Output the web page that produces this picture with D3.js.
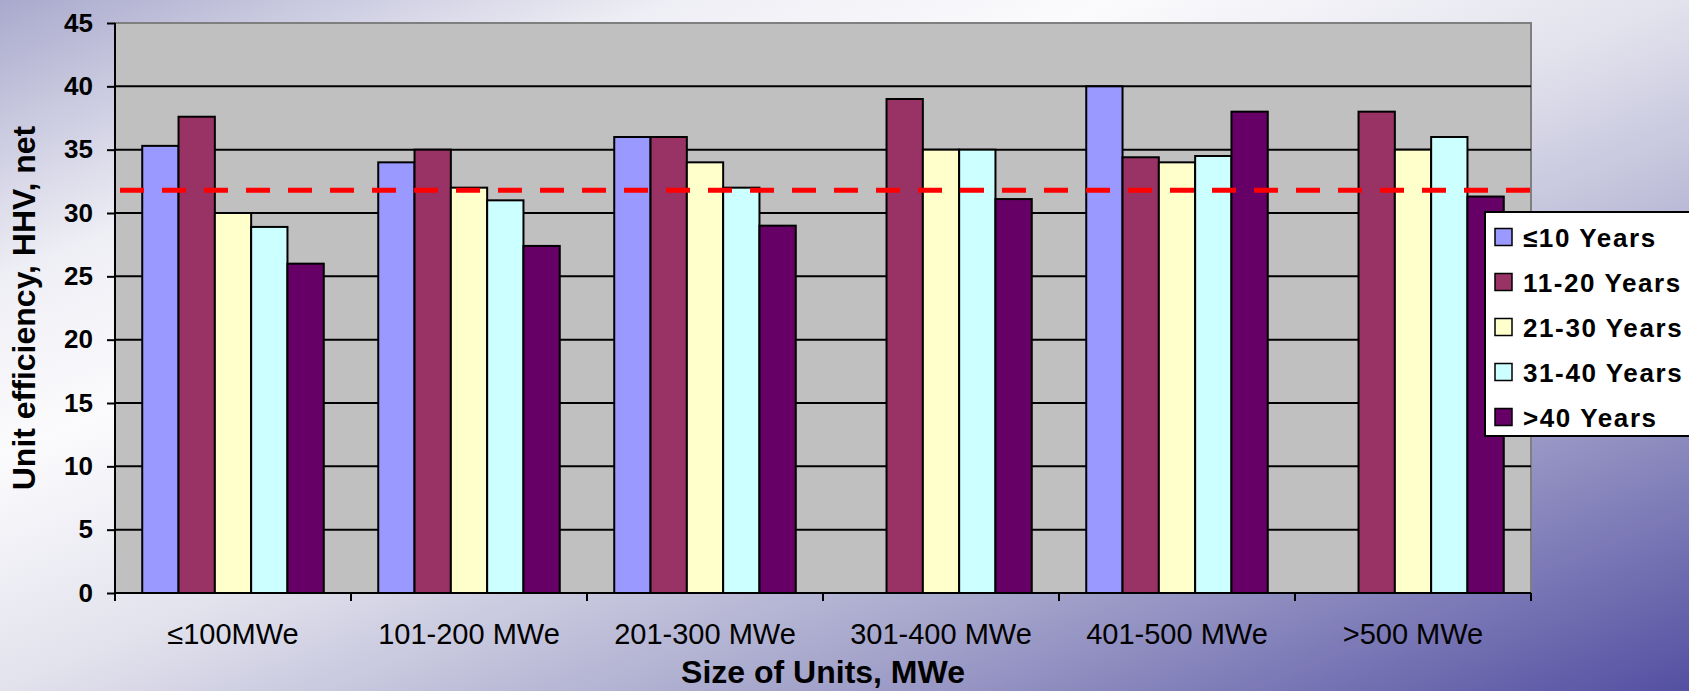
<!DOCTYPE html>
<html>
<head>
<meta charset="utf-8">
<script src="https://cdn.jsdelivr.net/npm/d3@7"></script>
<style>
  html, body { margin: 0; padding: 0; overflow: hidden; }
  svg { display: block; font-family: "Liberation Sans", Arial, sans-serif; }
</style>
</head>
<body>
<svg id="chart" width="1689" height="691"></svg>
<script>
// Unit sizes on the x axis
const categories = ["≤100MWe", "101-200 MWe", "201-300 MWe", "301-400 MWe", "401-500 MWe", ">500 MWe"];
// Unit age groups (one bar series each)
const seriesNames = ["≤10 Years", "11-20 Years", "21-30 Years", "31-40 Years", ">40 Years"];
// Net HHV efficiency (%) per age group, in category order (null = no units)
const age0to10 = [35.3, 34, 36, null, 40, null];
const age11to20 = [37.6, 35, 36, 39, 34.4, 38];
const age21to30 = [30, 32, 34, 35, 34, 35];
const age31to40 = [28.9, 31, 32, 35, 34.5, 36];
const ageOver40 = [26, 27.4, 29, 31.1, 38, 31.3];
// Fleet-wide average efficiency, drawn as the dashed reference line
const fleetAverage = 31.8;
// Y axis tick values
const yTicks = [0, 5, 10, 15, 20, 25, 30, 35, 40, 45];

const seriesValues = [age0to10, age11to20, age21to30, age31to40, ageOver40];
const colors = ["#9999ff", "#993366", "#ffffcc", "#ccffff", "#660066"];

const svg = d3.select("#chart");
const W = 1689, H = 691;
const m = { left: 115, top: 23, right: 158, bottom: 98 };
const pw = W - m.left - m.right, ph = H - m.top - m.bottom;

// Background gradient
const defs = svg.append("defs");
const grad = defs.append("linearGradient").attr("id", "bg")
  .attr("x1", 0).attr("y1", 0).attr("x2", 1).attr("y2", 1);
[[0, "#a9a9cd"], [0.2, "#eeeef5"], [0.33, "#fbfbfd"], [0.5, "#e2e2ed"], [0.72, "#a8a8cd"], [1, "#5450a2"]]
  .forEach(([o, c]) => grad.append("stop").attr("offset", o).attr("stop-color", c));
svg.append("rect").attr("width", W).attr("height", H).attr("fill", "url(#bg)");

const g = svg.append("g").attr("transform", `translate(${m.left},${m.top})`);

const x0 = d3.scaleBand().domain(categories).range([0, pw]).padding(0);
const x1 = d3.scaleBand().domain(seriesNames).range([0, x0.bandwidth()])
  .paddingInner(0).paddingOuter(0.75);
const y = d3.scaleLinear().domain([0, 45]).range([ph, 0]);

// Plot area
g.append("rect").attr("width", pw).attr("height", ph)
  .attr("fill", "#c0c0c0").attr("stroke", "#7f7f7f").attr("stroke-width", 2);

// Horizontal gridlines
g.append("g").selectAll("line").data(yTicks.filter(t => t > 0 && t < 45)).join("line")
  .attr("x1", 0).attr("x2", pw).attr("y1", d => y(d)).attr("y2", d => y(d))
  .attr("stroke", "#000").attr("stroke-width", 2);

// Bars
const rows = [];
seriesNames.forEach((s, si) => categories.forEach((c, ci) => {
  const v = seriesValues[si][ci];
  if (v != null) rows.push({ s, si, c, v });
}));
g.append("g").selectAll("rect").data(rows).join("rect")
  .attr("x", d => x0(d.c) + x1(d.s))
  .attr("y", d => y(d.v))
  .attr("width", x1.bandwidth())
  .attr("height", d => y(0) - y(d.v))
  .attr("fill", d => colors[d.si])
  .attr("stroke", "#000").attr("stroke-width", 2);

// Average line
g.append("line")
  .attr("x1", 5).attr("x2", pw)
  .attr("y1", y(fleetAverage)).attr("y2", y(fleetAverage))
  .attr("stroke", "#ff0000").attr("stroke-width", 5)
  .attr("stroke-dasharray", "24 18");

// Y axis
const yAxis = g.append("g").call(d3.axisLeft(y).tickValues(yTicks).tickSize(8).tickPadding(14));
yAxis.select(".domain").attr("stroke", "#000").attr("stroke-width", 2).attr("d", `M0,0V${ph}`);
yAxis.selectAll(".tick line").attr("stroke", "#000").attr("stroke-width", 2);
yAxis.selectAll(".tick text").attr("font-size", 26).attr("font-weight", "bold")
  .attr("font-family", "Liberation Sans, Arial, sans-serif").attr("fill", "#000");

// X axis: ticks at category boundaries
const xAxis = g.append("g").attr("transform", `translate(0,${ph})`);
xAxis.append("line").attr("x1", 0).attr("x2", pw).attr("stroke", "#000").attr("stroke-width", 2);
const bounds = categories.map(c => x0(c)).concat([pw]);
xAxis.selectAll("line.tick").data(bounds).join("line").attr("class", "tick")
  .attr("x1", d => d).attr("x2", d => d).attr("y1", 0).attr("y2", 8)
  .attr("stroke", "#000").attr("stroke-width", 2);
xAxis.selectAll("text").data(categories).join("text")
  .attr("x", d => x0(d) + x0.bandwidth() / 2).attr("y", 51)
  .attr("text-anchor", "middle").attr("font-size", 29).attr("fill", "#000")
  .text(d => d);

// Axis titles
svg.append("text")
  .attr("transform", `translate(35,${m.top + ph / 2}) rotate(-90)`)
  .attr("text-anchor", "middle").attr("font-size", 32).attr("font-weight", "bold")
  .text("Unit efficiency, HHV, net");
svg.append("text")
  .attr("x", m.left + pw / 2).attr("y", 683)
  .attr("text-anchor", "middle").attr("font-size", 32).attr("font-weight", "bold")
  .text("Size of Units, MWe");

// Legend
const lg = svg.append("g").attr("transform", "translate(1485,212)");
lg.append("rect").attr("width", 230).attr("height", 224)
  .attr("fill", "#fff").attr("stroke", "#000").attr("stroke-width", 2);
const items = lg.selectAll("g.item").data(seriesNames).join("g").attr("class", "item")
  .attr("transform", (d, i) => `translate(10,${25 + i * 45})`);
items.append("rect").attr("x", 0).attr("y", -8.5).attr("width", 17).attr("height", 17)
  .attr("fill", (d, i) => colors[i]).attr("stroke", "#000").attr("stroke-width", 1.5);
items.append("text").attr("x", 28).attr("y", 9.5)
  .attr("font-size", 26).attr("font-weight", "bold").attr("letter-spacing", 1.6)
  .text(d => d);
</script>
</body>
</html>
